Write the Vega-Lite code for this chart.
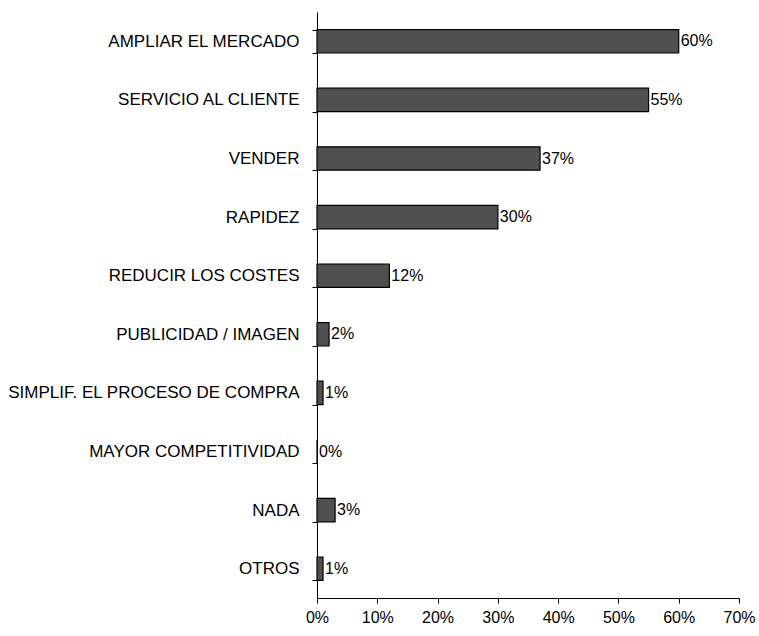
{
  "$schema": "https://vega.github.io/schema/vega-lite/v6.json",
  "width": 422,
  "height": 586,
  "autosize": "none",
  "padding": {"left": 317, "top": 12, "right": 20, "bottom": 38},
  "background": "white",
  "config": {"view": {"stroke": null}, "font": "Liberation Sans"},
  "data": {"values": [
    {"cat": "AMPLIAR EL MERCADO", "v": 0.60},
    {"cat": "SERVICIO AL CLIENTE", "v": 0.55},
    {"cat": "VENDER", "v": 0.37},
    {"cat": "RAPIDEZ", "v": 0.30},
    {"cat": "REDUCIR LOS COSTES", "v": 0.12},
    {"cat": "PUBLICIDAD / IMAGEN", "v": 0.02},
    {"cat": "SIMPLIF. EL PROCESO DE COMPRA", "v": 0.01},
    {"cat": "MAYOR COMPETITIVIDAD", "v": 0},
    {"cat": "NADA", "v": 0.03},
    {"cat": "OTROS", "v": 0.01}
  ]},
  "encoding": {
    "y": {"field": "cat", "type": "nominal", "sort": null,
      "scale": {"paddingInner": 0.6, "paddingOuter": 0.3},
      "axis": {"title": null, "domainColor": "black", "tickColor": "black", "tickBand": "extent", "tickSize": 5, "labelPadding": 13, "labelFontSize": 17, "labelColor": "black", "labelFont": "Liberation Sans", "labelLimit": 400}},
    "x": {"field": "v", "type": "quantitative",
      "scale": {"domain": [0, 0.7], "nice": false},
      "axis": {"title": null, "values": [0,0.1,0.2,0.3,0.4,0.5,0.6,0.7], "format": ".0%", "grid": false, "domainColor": "black", "tickColor": "black", "tickSize": 5, "labelFontSize": 16, "labelColor": "black", "labelPadding": 6, "labelFont": "Liberation Sans", "labelFlush": false}}
  },
  "layer": [
    {"mark": {"type": "bar", "color": "#505050", "stroke": "black", "strokeWidth": 1.2}},
    {"mark": {"type": "text", "align": "left", "dx": 2, "fontSize": 16, "color": "black", "font": "Liberation Sans"},
     "encoding": {"text": {"field": "v", "type": "quantitative", "format": ".0%"}}}
  ]
}
